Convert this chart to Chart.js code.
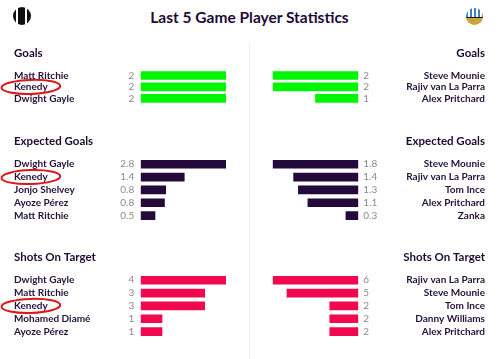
<!DOCTYPE html>
<html>
<head>
<meta charset="utf-8">
<script src="https://cdn.jsdelivr.net/npm/chart.js@4.4.1/dist/chart.umd.min.js"></script>
<style>
  body { margin: 0; width: 500px; height: 359px; background: #fff; position: relative; overflow: hidden; font-family: Lato, sans-serif; }
  h1 { position: absolute; left: 0; top: 8px; width: 499px; margin: 0; text-align: center; font-size: 15.5px; line-height: 18px; font-weight: bold; color: #1e0b34; }
  .crest-home { position: absolute; left: 13px; top: 7px; width: 18px; height: 18px; border-radius: 50%;
    background: linear-gradient(90deg, #111 0 3px, #fff 3px 5.5px, #111 5.5px 12px, #fff 12px 14.5px, #111 14.5px 18px); }
  .crest-away { position: absolute; left: 466px; top: 8px; width: 17px; height: 17px; border-radius: 50%; overflow: hidden;
    background: linear-gradient(180deg, transparent 0 52%, #1a1a2a 52% 60%, #c9a53a 60% 100%),
                repeating-linear-gradient(90deg, #3d7fc1 0 2px, #fff 2px 4px); }
  .divider { position: absolute; left: 249px; top: 43px; width: 1px; height: 316px; background: #eee; }
  .box { position: absolute; width: 250px; }
  .left { left: 0; }
  .right { left: 250px; }
</style>
</head>
<body>
<h1>Last 5 Game Player Statistics</h1>
<div class="crest-home"></div>
<div class="crest-away"></div>
<div class="divider"></div>

<div class="box left" style="top:46px;height:67px"><canvas id="goalsHome"></canvas></div>
<div class="box right" style="top:46px;height:67px"><canvas id="goalsAway"></canvas></div>
<div class="box left" style="top:134px;height:97px"><canvas id="xgHome"></canvas></div>
<div class="box right" style="top:134px;height:97px"><canvas id="xgAway"></canvas></div>
<div class="box left" style="top:250px;height:97px"><canvas id="shotsHome"></canvas></div>
<div class="box right" style="top:250px;height:97px"><canvas id="shotsAway"></canvas></div>

<script>
// Goals
const goalsHomePlayers = ['Matt Ritchie', 'Kenedy', 'Dwight Gayle'];
const goalsHomeValues = [2, 2, 2];
const goalsAwayPlayers = ['Steve Mounie', 'Rajiv van La Parra', 'Alex Pritchard'];
const goalsAwayValues = [2, 2, 1];

// Expected goals
const xgHomePlayers = ['Dwight Gayle', 'Kenedy', 'Jonjo Shelvey', 'Ayoze Pérez', 'Matt Ritchie'];
const xgHomeValues = [2.8, 1.43, 0.82, 0.78, 0.47];
const xgAwayPlayers = ['Steve Mounie', 'Rajiv van La Parra', 'Tom Ince', 'Alex Pritchard', 'Zanka'];
const xgAwayValues = [1.8, 1.36, 1.26, 1.06, 0.26];

// Shots on target
const shotsHomePlayers = ['Dwight Gayle', 'Matt Ritchie', 'Kenedy', 'Mohamed Diamé', 'Ayoze Pérez'];
const shotsHomeValues = [4, 3, 3, 1, 1];
const shotsAwayPlayers = ['Rajiv van La Parra', 'Steve Mounie', 'Tom Ince', 'Danny Williams', 'Alex Pritchard'];
const shotsAwayValues = [6, 5, 2, 2, 2];

const highlightPlayer = 'Kenedy';

const ROW_H = 14.6;
const TITLE_H = 23.8;
const textColor = '#24123a';

// numbers next to the bars
const valueLabels = {
  id: 'valueLabels',
  afterDatasetsDraw(chart, args, opts) {
    const { ctx, chartArea } = chart;
    const vals = chart.data.datasets[0].data;
    ctx.save();
    ctx.font = '10px Lato';
    ctx.fillStyle = '#8a8a8a';
    ctx.textBaseline = 'middle';
    chart.getDatasetMeta(0).data.forEach((bar, i) => {
      const txt = vals[i].toFixed(opts.decimals);
      if (opts.side === 'left') {
        ctx.textAlign = 'right';
        ctx.fillText(txt, chartArea.left - 6.5, bar.y);
      } else {
        ctx.textAlign = 'left';
        ctx.fillText(txt, chartArea.right + 5, bar.y);
      }
    });
    ctx.restore();
  }
};

// red ring drawn round a player name
const circleName = {
  id: 'circleName',
  afterDraw(chart, args, opts) {
    if (!opts.name) return;
    const idx = chart.data.labels.indexOf(opts.name);
    if (idx < 0) return;
    const yScale = chart.scales.y;
    const y = yScale.getPixelForValue(idx);
    const ctx = chart.ctx;
    ctx.save();
    ctx.font = 'bold 10px Lato';
    const w = ctx.measureText(opts.name).width;
    ctx.strokeStyle = '#e0141a';
    ctx.lineWidth = 2;
    ctx.beginPath();
    ctx.ellipse(yScale.left + w / 2, y, w / 2 + 12.5, 7, -0.03, 0, Math.PI * 2);
    ctx.stroke();
    ctx.restore();
  }
};

function drawChart(canvasId, heading, names, values, color, side, decimals) {
  const ctx = document.getElementById(canvasId);
  const boxH = ctx.parentNode.clientHeight;
  const left = side === 'left';

  new Chart(ctx.getContext('2d'), {
    type: 'bar',
    data: {
      labels: names,
      datasets: [{
        data: values,
        backgroundColor: color,
        barThickness: 8,
      }],
    },
    options: {
      indexAxis: 'y',
      responsive: true,
      maintainAspectRatio: false,
      animation: false,
      layout: {
        padding: {
          left: left ? 14 : 22.7,
          right: left ? 24 : 15,
          top: 0,
          bottom: boxH - TITLE_H - names.length * ROW_H,
        },
      },
      plugins: {
        legend: { display: false },
        tooltip: { enabled: false },
        title: {
          display: true,
          text: heading,
          align: left ? 'start' : 'end',
          color: '#1e0b34',
          font: { family: 'Lato', size: 11.5, weight: 'bold', lineHeight: 1.2 },
          padding: { top: 0, bottom: 10 },
        },
        valueLabels: { side: side, decimals: decimals },
        circleName: { name: left ? highlightPlayer : null },
      },
      scales: {
        x: {
          display: false,
          min: 0,
          max: Math.max(...values),
          reverse: !left,
        },
        y: {
          position: left ? 'left' : 'right',
          grid: { display: false },
          border: { display: false },
          ticks: {
            crossAlign: 'far',
            autoSkip: false,
            color: textColor,
            font: { family: 'Lato', size: 10, weight: 'bold' },
          },
          afterFit(scale) { scale.width = 126.7; },
        },
      },
    },
    plugins: [valueLabels, circleName],
  });
}

drawChart('goalsHome', 'Goals', goalsHomePlayers, goalsHomeValues, '#00f500', 'left', 0);
drawChart('goalsAway', 'Goals', goalsAwayPlayers, goalsAwayValues, '#00f500', 'right', 0);
drawChart('xgHome', 'Expected Goals', xgHomePlayers, xgHomeValues, '#230a3b', 'left', 1);
drawChart('xgAway', 'Expected Goals', xgAwayPlayers, xgAwayValues, '#230a3b', 'right', 1);
drawChart('shotsHome', 'Shots On Target', shotsHomePlayers, shotsHomeValues, '#f2084f', 'left', 0);
drawChart('shotsAway', 'Shots On Target', shotsAwayPlayers, shotsAwayValues, '#f2084f', 'right', 0);
</script>
</body>
</html>
